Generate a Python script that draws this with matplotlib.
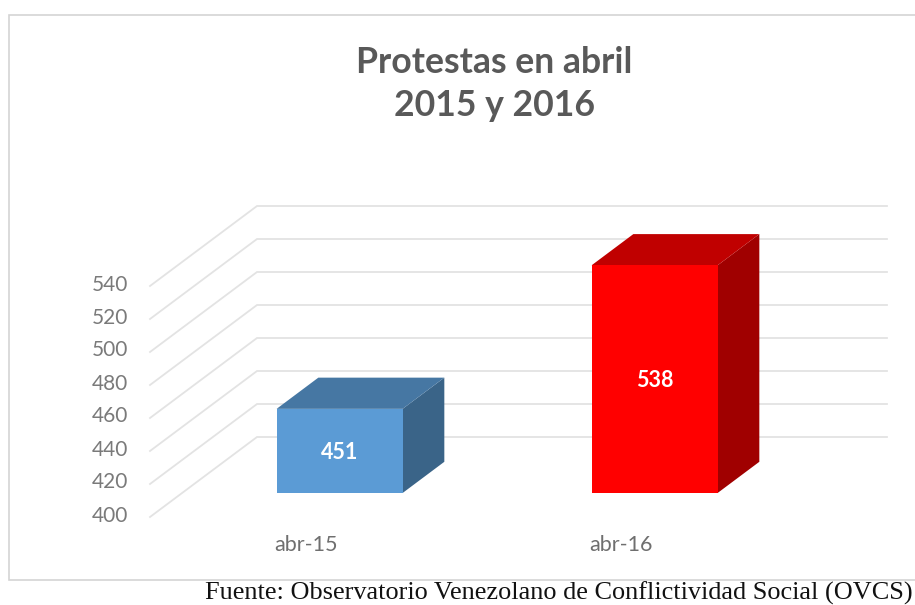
import matplotlib
matplotlib.use("Agg")
import matplotlib.pyplot as plt
from matplotlib.patches import Rectangle

categories = ["abr-15", "abr-16"]
values = [451, 538]
front_colors = ["#5b9bd5", "#ff0000"]
top_colors = ["#4677a3", "#c00000"]
side_colors = ["#3a6488", "#a00000"]
y_ticks = [400, 420, 440, 460, 480, 500, 520, 540]
title_lines = "Protestas en abril\n2015 y 2016"
source = "Fuente: Observatorio Venezolano de Conflictividad Social (OVCS)"

W, H = 915, 605
plt.rcParams["font.family"] = ["Lato", "DejaVu Sans"]
fig = plt.figure(figsize=(W / 100, H / 100), dpi=100, facecolor="white")

# frame
fig.add_artist(Rectangle((8.5 / W, 1 - 580 / H), 907 / W, 565 / H, transform=fig.transFigure,
                         fc="none", ec="#d4d4d4", lw=1.2, zorder=0))

L, R, T, B = 150, 780, 286, 517
ax = fig.add_axes([L / W, 1 - B / H, (R - L) / W, (B - T) / H])
ax.set_xlim(-0.5, 1.5)
ax.set_ylim(400, 540)
ax.axis("off")

DX = 107 / (R - L) * 2      # category units per full depth
DY = 80 / (B - T) * 140     # value units per full depth
PX = 2 / (R - L)            # category units per pixel
PY = 140 / (B - T)          # value units per pixel


def proj(x, y, d):
    return x + d * DX, y + d * DY


# gridlines: side wall + back wall
for t in y_ticks:
    x0, y0 = proj(-0.5, t, 0)
    x1, y1 = proj(-0.5, t, 1)
    x2, y2 = proj(1.5, t, 1)
    ax.plot([x0, x1, x2], [y0, y1, y2], color="#e3e3e3", lw=1.3, clip_on=False, zorder=1,
            solid_joinstyle="miter")
    ax.text(-0.5 - 22 * PX, t + 1.5 * PY, str(t), ha="right", va="center", fontsize=15,
            color="#7a7a7a", clip_on=False)

# bars
bw = 0.4
d0, d1 = 0.30, 0.69
for i, v in enumerate(values):
    xl, xr = i - bw / 2, i + bw / 2
    front = [proj(xl, 400, d0), proj(xr, 400, d0), proj(xr, v, d0), proj(xl, v, d0)]
    top = [proj(xl, v, d0), proj(xr, v, d0), proj(xr, v, d1), proj(xl, v, d1)]
    side = [proj(xr, 400, d0), proj(xr, 400, d1), proj(xr, v, d1), proj(xr, v, d0)]
    for poly, c in ((side, side_colors[i]), (top, top_colors[i]), (front, front_colors[i])):
        ax.fill(*zip(*poly), color=c, lw=0, clip_on=False, zorder=3)
    cx, cy = proj(i, (400 + v) / 2, d0)
    ax.text(cx, cy - 1.5 * PY, str(v), ha="center", va="center", color="white", fontsize=15.5,
            fontweight="bold", zorder=4, clip_on=False)
    ax.text(i - 1.5 * PX, 400 - 28 * PY, categories[i], ha="center", va="center",
            fontsize=15.5, color="#6f6f6f", clip_on=False)

fig.text(494.5 / W, 1 - 84 / H, title_lines, ha="center", va="center", fontsize=25.7,
         fontweight="bold", color="#595959", linespacing=1.4)
fig.text(558.5 / W, 1 - 593 / H, source, ha="center", va="center", fontsize=18.9,
         family="Liberation Serif", color="#111111")

fig.savefig("out.png", dpi=100, facecolor="white")
